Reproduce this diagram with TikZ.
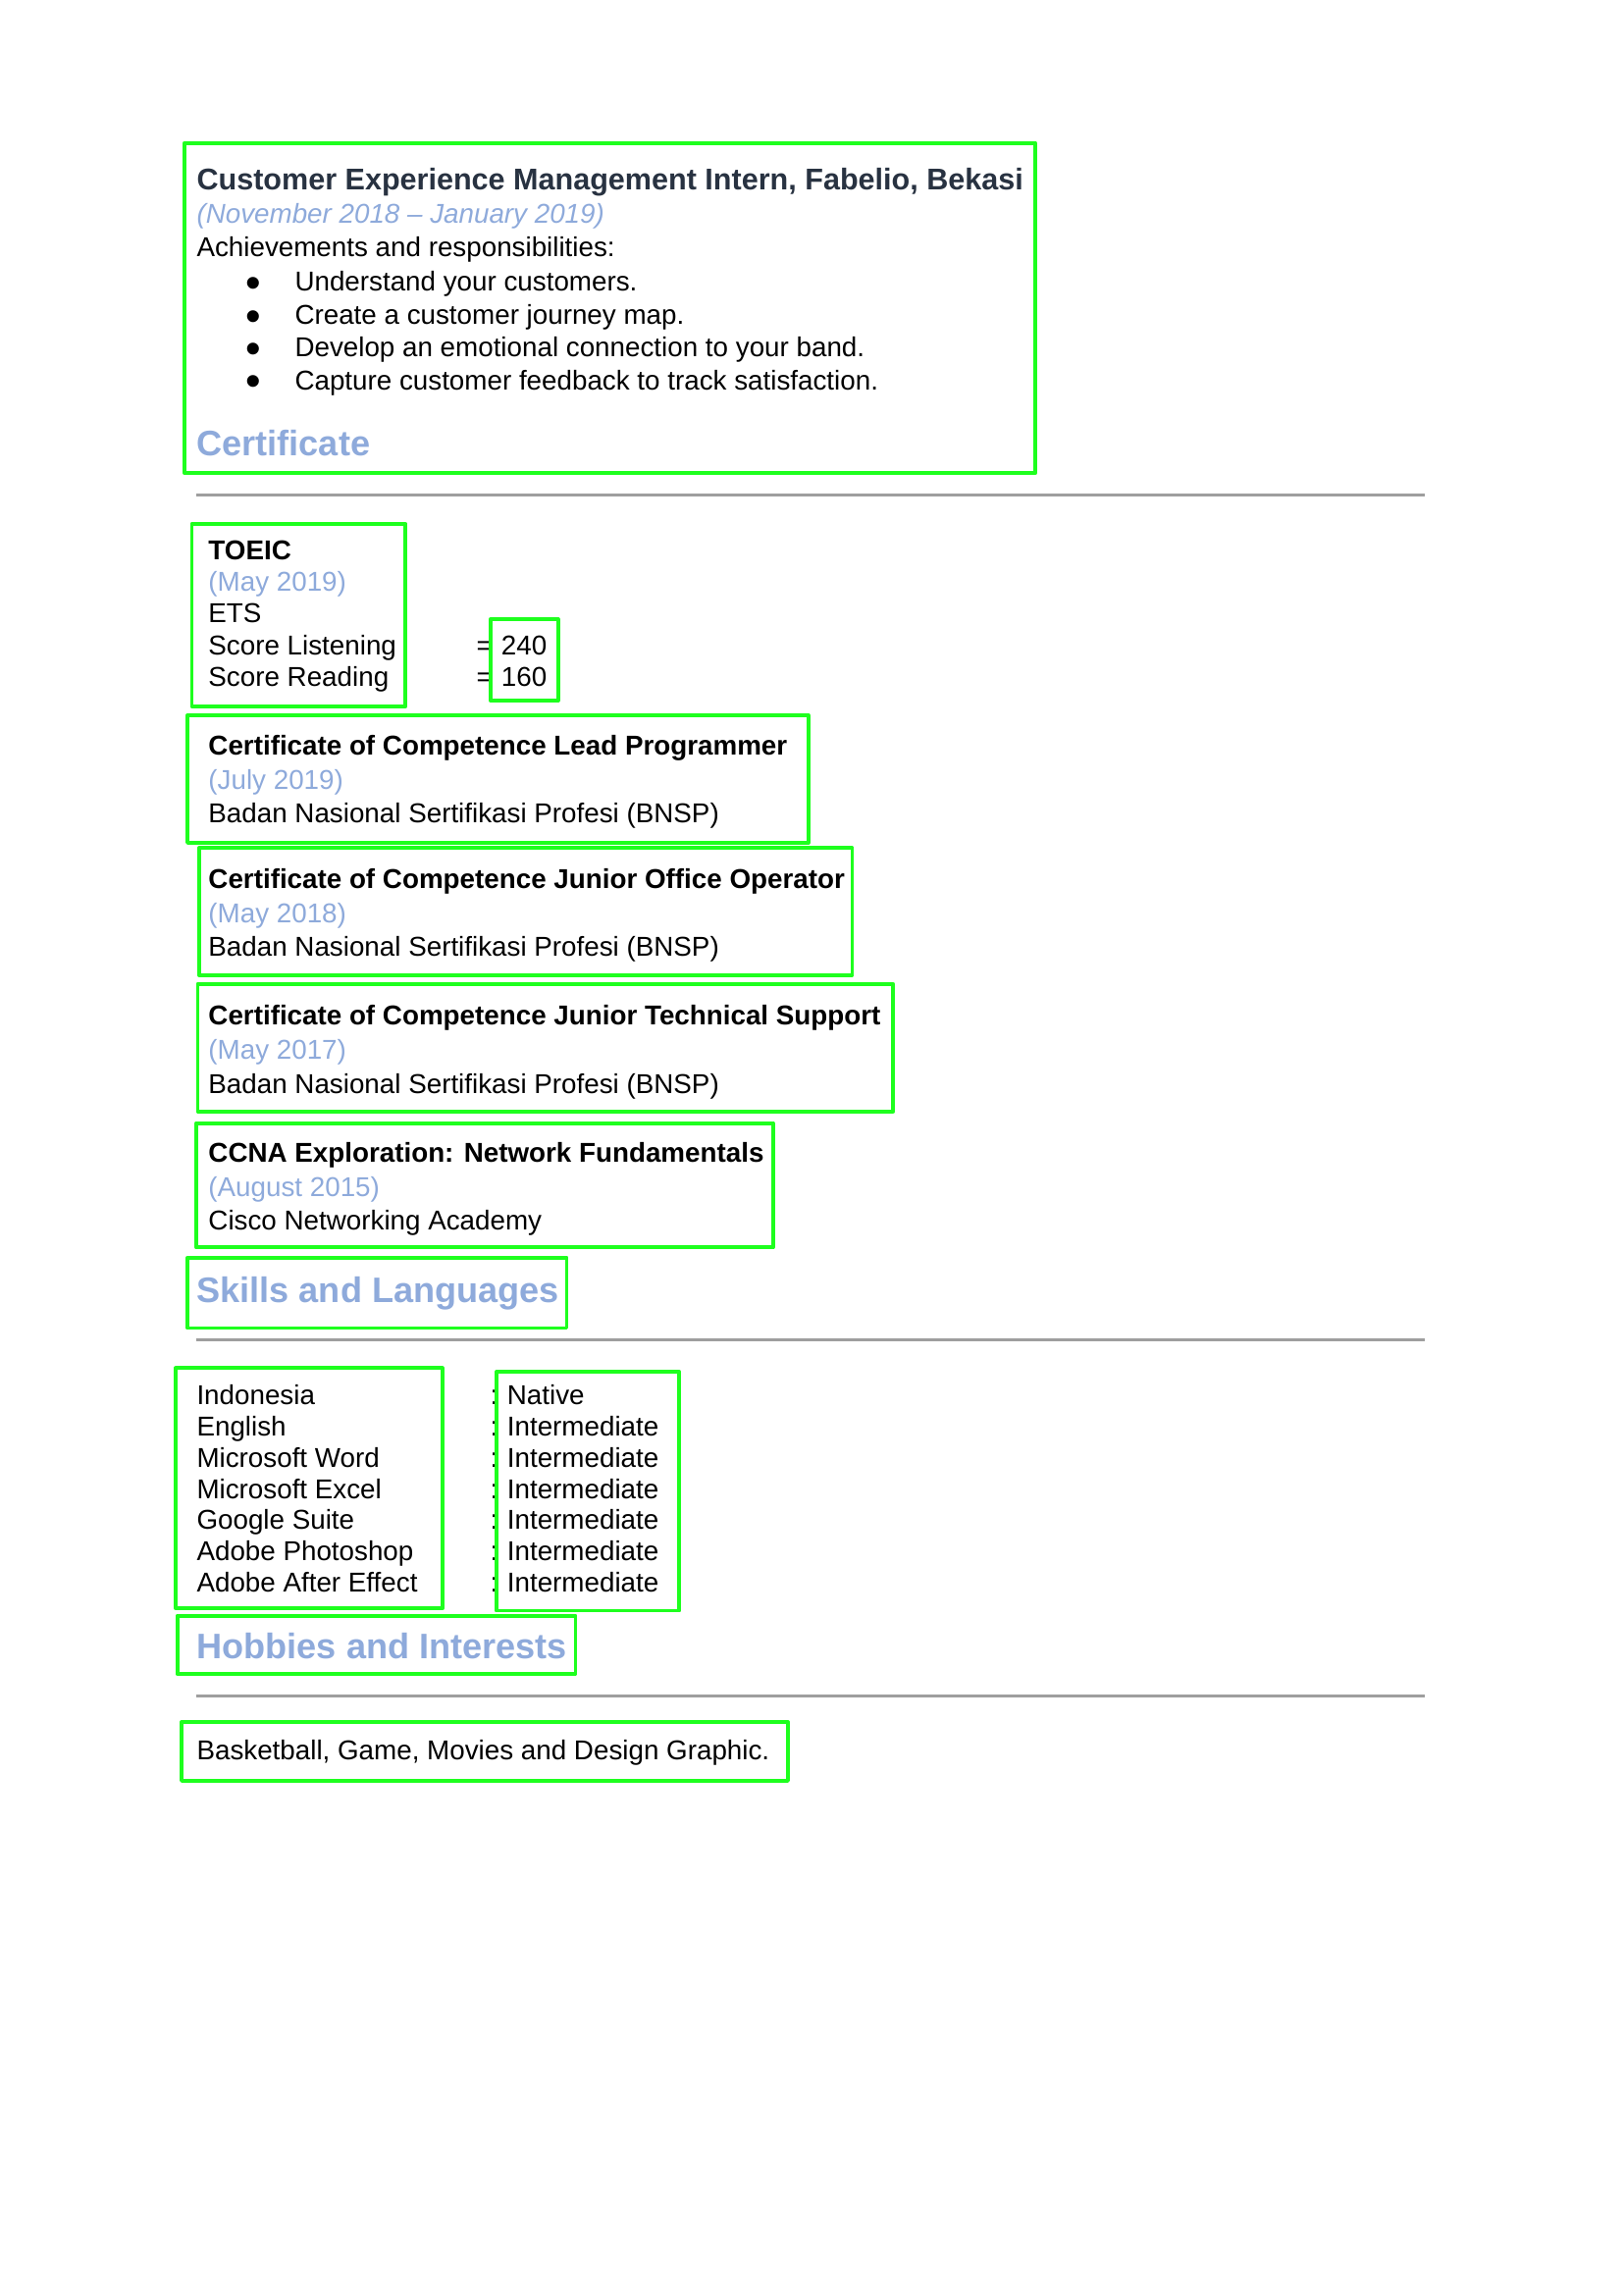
\documentclass[tikz,border=0pt]{standalone}
\usepackage{fontspec}
\setmainfont{Liberation Sans}
\definecolor{hblue}{RGB}{142,170,219}
\definecolor{gbox}{RGB}{30,255,30}
\definecolor{rulegray}{RGB}{158,158,158}
\definecolor{ink}{RGB}{40,50,65}
\tikzset{
  txt/.style={anchor=base west, inner sep=0pt, font=\fontsize{10}{12}\selectfont},
  hd/.style={txt, font=\fontsize{10}{12}\selectfont\bfseries},
  dt/.style={txt, text=hblue},
  sec/.style={txt, text=hblue, font=\fontsize{13}{15}\selectfont\bfseries},
  dot/.style={anchor=base, inner sep=0pt, text height=2pt, text depth=0pt, font=\fontsize{16}{16}\selectfont},
  gbx/.style={draw=gbox, line width=1.4pt},
  hr/.style={draw=rulegray, line width=1.2pt},
}
\begin{document}
\begin{tikzpicture}[x=0.5371pt, y=-0.5371pt, line join=round]
\useasboundingbox (0,0) rectangle (1108.4,1567.4);

% Experience
\draw[gbx] (126,97.6) rectangle (707,323.2);
\node[hd, text=ink, font=\fontsize{11}{13}\selectfont\bfseries] (job) at (134,129.5) {Customer Experience Management Intern, Fabelio, Bekasi};
\node[dt, font=\fontsize{10}{12}\selectfont\itshape] (jobdate) at (134,152.3) {(November 2018 – January 2019)};
\node[txt] (ach) at (134,175.4) {Achievements and responsibilities:};
\foreach \t [count=\i] in {Understand your customers., Create a customer journey map., Develop an emotional connection to your band., Capture customer feedback to track satisfaction.}{
  \node[dot] (dot\i) at (173,181.1+22.4*\i) {\textbullet};
  \node[txt] (item\i) at (201,176.5+22.4*\i) {\t};
}
\node[sec] (certsec) at (134,311.1) {Certificate};
\draw[hr] (134,338.2) -- (972.8,338.2);

% TOEIC
\draw[gbx] (131,357.8) rectangle (277,482.5);
\node[hd] (toeic) at (142,382) {TOEIC};
\node[dt] (toeicdate) at (142,403.75) {(May 2019)};
\node[txt] (ets) at (142,425.5) {ETS};
\node[txt] (listen) at (142,447.25) {Score Listening};
\node[txt] (read) at (142,469) {Score Reading};
\node[txt] (eq1) at (325,447.25) {=};
\node[txt] (lscore) at (342,447.25) {240};
\node[txt] (eq2) at (325,469) {=};
\node[txt] (rscore) at (342,469) {160};
\draw[gbx] (335,422.8) rectangle (381,478.5);

% certificates
\draw[gbx] (128,488.5) rectangle (552,575.6);
\node[hd] (lead) at (142,515.5) {Certificate of Competence Lead Programmer};
\node[dt] (leaddate) at (142,539) {(July 2019)};
\node[txt] (leadorg) at (142,562) {Badan Nasional Sertifikasi Profesi (BNSP)};

\draw[gbx] (136,579) rectangle (582,666);
\node[hd] (office) at (142,606.5) {Certificate of Competence Junior Office Operator};
\node[dt] (officedate) at (142,630) {(May 2018)};
\node[txt] (officeorg) at (142,653) {Badan Nasional Sertifikasi Profesi (BNSP)};

\draw[gbx] (135,672) rectangle (610,759);
\node[hd] (tech) at (142,700) {Certificate of Competence Junior Technical Support};
\node[dt] (techdate) at (142,723.5) {(May 2017)};
\node[txt] (techorg) at (142,746.5) {Badan Nasional Sertifikasi Profesi (BNSP)};

\draw[gbx] (134,767) rectangle (528,852);
\node[hd] (ccna) at (142,794) {CCNA Exploration: Network Fundamentals};
\node[dt] (ccnadate) at (142,817) {(August 2015)};
\node[txt] (ccnaorg) at (142,840) {Cisco Networking Academy};

% Skills
\draw[gbx] (128,859) rectangle (387,907);
\node[sec] (skillsec) at (134,889.5) {Skills and Languages};
\draw[hr] (134,915) -- (972.8,915);
\draw[gbx] (120,934.3) rectangle (302,1098.5);
\foreach \l/\v [count=\i from 0] in {Indonesia/Native, English/Intermediate, Microsoft Word/Intermediate, Microsoft Excel/Intermediate, Google Suite/Intermediate, Adobe Photoshop/Intermediate, Adobe After Effect/Intermediate}{
  \node[txt] (lang\i) at (134,959.4+21.3*\i) {\l};
  \node[txt] (col\i) at (334.5,959.4+21.3*\i) {:};
  \node[txt] (lvl\i) at (346,959.4+21.3*\i) {\v};
}
\draw[gbx] (339,937) rectangle (464,1100);

% Hobbies
\draw[gbx] (121,1103.5) rectangle (393,1143.2);
\node[sec] (hobsec) at (134,1132.5) {Hobbies and Interests};
\draw[hr] (134,1158.2) -- (972.8,1158.2);
\draw[gbx] (124,1176) rectangle (538,1216.2);
\node[txt] (hobby) at (134,1202) {Basketball, Game, Movies and Design Graphic.};
\end{tikzpicture}
\end{document}
